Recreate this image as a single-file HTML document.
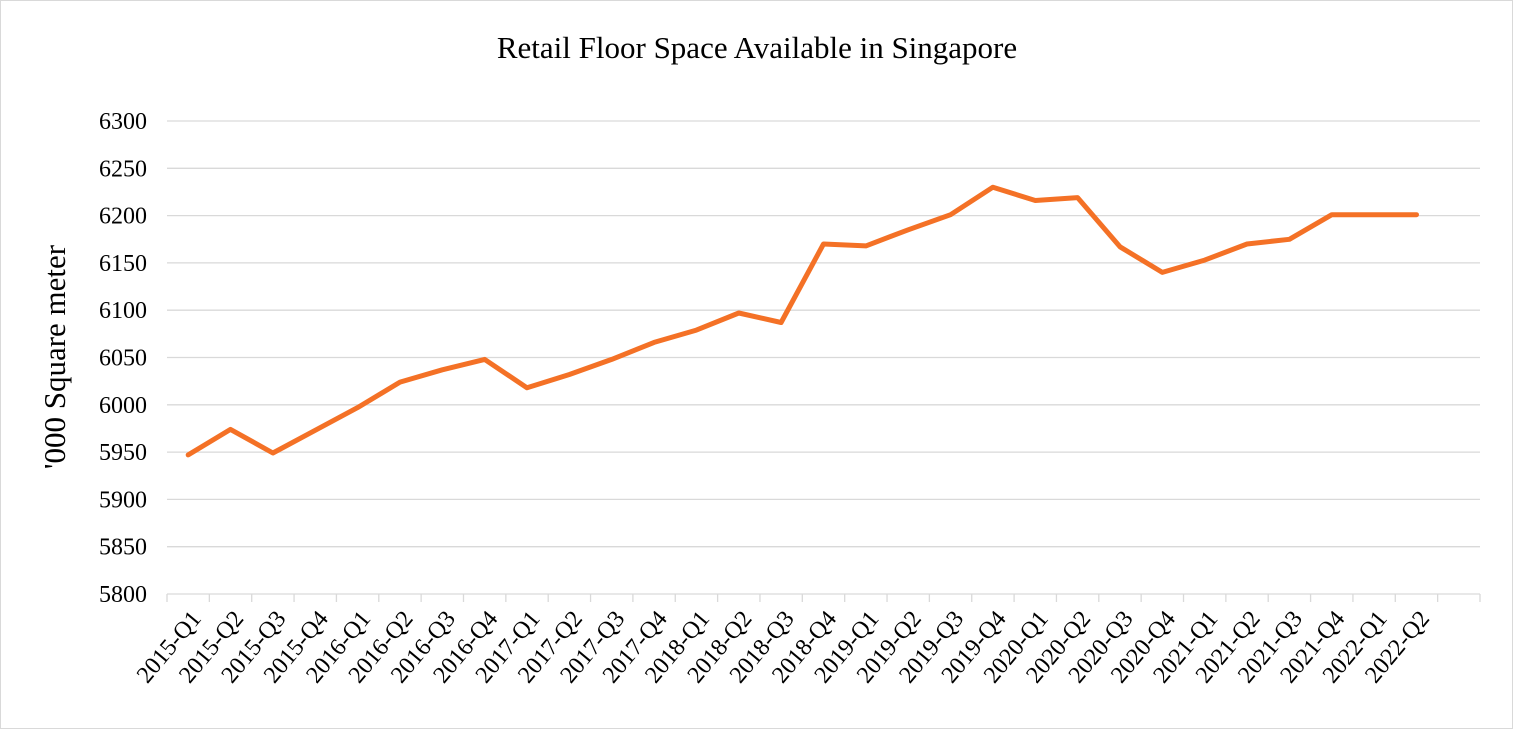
<!DOCTYPE html>
<html><head><meta charset="utf-8"><style>body{margin:0;background:#fff}svg{display:block}</style></head><body>
<svg width="1513" height="729" viewBox="0 0 1513 729" xmlns="http://www.w3.org/2000/svg" font-family="Liberation Serif, serif">
<rect x="0.5" y="0.5" width="1512" height="728" fill="#fff" stroke="#d9d9d9"/>
<text x="757" y="58" text-anchor="middle" font-size="31" fill="#000">Retail Floor Space Available in Singapore</text>
<text transform="translate(65,357) rotate(-90)" text-anchor="middle" font-size="31" fill="#000">'000 Square meter</text>
<g id="grid" stroke="#d9d9d9" stroke-width="1.3"></g>
<g id="yl" font-size="24" text-anchor="end" fill="#000"></g>
<g id="xl" font-size="24" text-anchor="end" fill="#000"></g>
<polyline id="ln" fill="none" stroke="#f47126" stroke-width="5" stroke-linejoin="round" stroke-linecap="round"/>
<script>
var ns="http://www.w3.org/2000/svg";
function el(t,a,p,txt){var e=document.createElementNS(ns,t);for(var k in a)e.setAttribute(k,a[k]);if(txt)e.textContent=txt;document.getElementById(p).appendChild(e);}
var x0=167,x1=1480,yT=121,yB=594;
function Y(v){return yB-(v-5800)*(yB-yT)/500;}
for(var v=5800;v<=6300;v+=50){var y=Y(v);el('line',{x1:x0,x2:x1,y1:y,y2:y},'grid');el('text',{x:147,y:y+8},'yl',String(v));}
var n=31,w=(x1-x0)/n;
for(var i=0;i<=n;i++){var x=x0+i*w;el('line',{x1:x,x2:x,y1:yB,y2:yB+8},'grid');}
var d=[5947,5974,5949,5973,5997,6024,6037,6048,6018,6032,6048,6066,6079,6097,6087,6170,6168,6185,6201,6230,6216,6219,6167,6140,6153,6170,6175,6201,6201,6201];
var labs=[];for(var yr=2015;yr<=2022;yr++)for(var q=1;q<=4;q++)labs.push(yr+'-Q'+q);labs=labs.slice(0,30);
var pts=[];
for(var i=0;i<30;i++){var x=x0+(i+0.5)*w;pts.push(x.toFixed(1)+','+Y(d[i]).toFixed(1));
el('text',{transform:'translate('+(x+14)+',619) rotate(-50)'},'xl',labs[i]);}
document.getElementById('ln').setAttribute('points',pts.join(' '));
</script>
</svg>
</body></html>
